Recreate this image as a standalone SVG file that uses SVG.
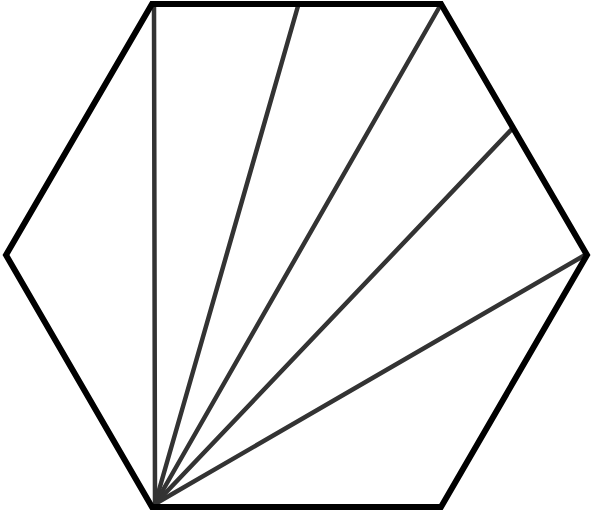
<svg xmlns="http://www.w3.org/2000/svg" width="592" height="512" viewBox="0 0 592 512">
<style>
.hex{fill:none;stroke:#000;stroke-width:6;stroke-linejoin:miter}
.d{stroke:#333;stroke-width:4.5;stroke-linecap:round}
</style>
<rect width="592" height="512" fill="#fff"/>
<g id="diagonals">
<line class="d" x1="155" y1="504" x2="154" y2="6"/>
<line class="d" x1="155" y1="504" x2="298" y2="6"/>
<line class="d" x1="155" y1="504" x2="440" y2="6"/>
<line class="d" x1="155" y1="504" x2="512" y2="129"/>
<line class="d" x1="155" y1="504" x2="585" y2="255"/>
</g>
<g id="hexagon">
<polygon class="hex" points="152,4 441,4 587,255 441,507 152,507 6,255"/>
</g>
</svg>
